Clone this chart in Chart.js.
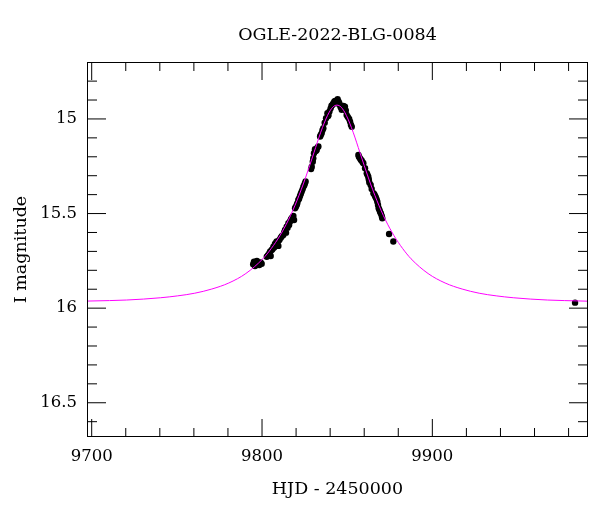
<!DOCTYPE html>
<html><head><meta charset="utf-8">
<script src="https://cdn.jsdelivr.net/npm/chart.js@4.4.1/dist/chart.umd.min.js"></script>
<style>html,body{margin:0;padding:0;background:#fff;}</style>
</head><body>
<canvas id="c" width="600" height="512"></canvas>
<script>
const chartTitle = 'OGLE-2022-BLG-0084';
const xTitle = 'HJD - 2450000';
const yTitle = 'I magnitude';

const xMajorTicks = [9700, 9800, 9900];
const xMinorTicks = [9700, 9720, 9740, 9760, 9780, 9800, 9820, 9840, 9860, 9880, 9900, 9920, 9940, 9960, 9980];
const yMajorTicks = [15, 15.5, 16, 16.5];
const yMinorTicks = [14.8, 14.9, 15, 15.1, 15.2, 15.3, 15.4, 15.5, 15.6, 15.7, 15.8, 15.9, 16, 16.1, 16.2, 16.3, 16.4, 16.5, 16.6];

// observed photometry (HJD - 2450000, I mag)
const obsHJD = [9795.3, 9796.9, 9798.4, 9795.9, 9799.2, 9796.2, 9794.8, 9797.5, 9799.8, 9797.0,
  9802.8, 9803.5, 9804.3, 9804.8, 9805.1, 9805.7, 9806.2, 9806.7, 9807.1, 9807.6, 9808.1, 9808.6,
  9809.1, 9809.6, 9810.2, 9811.0, 9811.6,
  9812.5, 9813.0, 9813.5, 9814.1, 9814.5, 9815.0, 9815.5, 9815.9, 9816.4, 9816.9, 9817.4,
  9817.9, 9818.4, 9818.8,
  9819.4, 9819.8, 9820.4, 9820.7, 9821.3, 9821.8, 9822.3, 9822.8, 9823.3, 9823.8, 9824.3,
  9824.8, 9825.2, 9825.6,
  9828.8, 9829.2, 9829.8, 9830.1, 9830.5, 9831.1, 9831.6, 9832.1, 9832.6, 9833.1, 9834.1,
  9834.5, 9835.0, 9835.5, 9836.0,
  9836.8, 9837.6, 9838.4, 9838.8, 9839.0, 9839.6, 9840.3, 9840.8, 9841.4, 9841.9, 9842.5,
  9843.0, 9843.8, 9844.4, 9844.9, 9845.3, 9845.8, 9846.2, 9846.8, 9847.2, 9847.8, 9848.2,
  9848.7, 9849.2, 9849.7, 9850.4, 9851.2, 9851.7, 9852.2, 9852.7,
  9856.6, 9856.9, 9857.5, 9858.0, 9858.5, 9859.0, 9859.5, 9860.5, 9861.5, 9861.9, 9862.4,
  9862.7, 9863.0, 9863.8, 9864.4, 9865.4, 9865.9, 9866.4, 9866.8, 9867.3, 9867.7, 9868.1,
  9868.5, 9868.9, 9869.3, 9869.8, 9870.3, 9870.6, 9874.6, 9877.1,
  9983.8];
const obsMag = [15.754, 15.766, 15.772, 15.777, 15.759, 15.760, 15.768, 15.770, 15.765, 15.750,
  15.728, 15.720, 15.710, 15.700, 15.724, 15.692, 15.688, 15.675, 15.680, 15.661, 15.655, 15.648,
  15.660, 15.671, 15.640, 15.628, 15.620,
  15.613, 15.600, 15.587, 15.601, 15.569, 15.575, 15.551, 15.560, 15.543, 15.532, 15.525,
  15.520, 15.513, 15.534,
  15.472, 15.465, 15.455, 15.446, 15.428, 15.420, 15.407, 15.395, 15.384, 15.372, 15.358,
  15.350, 15.340, 15.330,
  15.265, 15.252, 15.226, 15.208, 15.181, 15.160, 15.170, 15.164, 15.150, 15.146, 15.093,
  15.085, 15.076, 15.060, 15.049,
  15.020, 14.996, 14.970, 14.985, 14.979, 14.960, 14.944, 14.930, 14.925, 14.917, 14.908,
  14.905, 14.917, 14.896, 14.908, 14.915, 14.926, 14.938, 14.952, 14.945, 14.931, 14.940,
  14.935, 14.955, 14.979, 14.990, 15.000, 15.014, 15.030, 15.041,
  15.190, 15.200, 15.208, 15.215, 15.220, 15.228, 15.234, 15.260, 15.287, 15.295, 15.305,
  15.320, 15.336, 15.349, 15.370, 15.393, 15.398, 15.407, 15.415, 15.425, 15.437, 15.455,
  15.472, 15.480, 15.490, 15.500, 15.513, 15.525, 15.608, 15.648,
  15.971];

// model curve
const modelHJD = [9690, 9710.5, 9720.5, 9730.5, 9740.5, 9750.5, 9760.5, 9770.5, 9780.5, 9790.5,
  9800.5, 9805.5, 9810.5, 9815.5, 9820.5, 9825.5, 9830.5, 9834.5, 9838.5, 9841.5, 9844,
  9846.5, 9849.5, 9853.5, 9857.5, 9862.5, 9867.5, 9872.5, 9877.5, 9882.5, 9887.5,
  9897.5, 9907.5, 9917.5, 9927.5, 9937.5, 9947.5, 9957.5, 9967.5, 9977.5, 9995];
const modelMag = [15.964, 15.960, 15.957, 15.952, 15.945, 15.935, 15.921, 15.899, 15.867, 15.817,
  15.739, 15.684, 15.617, 15.534, 15.432, 15.312, 15.178, 15.070, 14.981, 14.938, 14.927,
  14.938, 14.981, 15.070, 15.178, 15.312, 15.432, 15.534, 15.617, 15.684, 15.739,
  15.817, 15.867, 15.899, 15.921, 15.935, 15.945, 15.952, 15.957, 15.960, 15.964];

const SERIF = '"DejaVu Serif", "Liberation Serif", serif';
const TITLE_FONT = {family: SERIF, size: 17.5, weight: 'normal'};
const TICK_FONT = {family: SERIF, size: 16.5, weight: 'normal'};

const frameTicks = {
  id: 'frameTicks',
  afterDraw(chart) {
    const {ctx, chartArea: a, scales: {x, y}} = chart;
    ctx.save();
    ctx.strokeStyle = '#000';
    ctx.lineWidth = 1;
    ctx.beginPath();
    xMinorTicks.forEach(v => {
      const px = x.getPixelForValue(v);
      const len = xMajorTicks.includes(v) ? 18 : 9;
      ctx.moveTo(px, a.bottom); ctx.lineTo(px, a.bottom - len);
      ctx.moveTo(px, a.top); ctx.lineTo(px, a.top + len);
    });
    yMinorTicks.forEach(v => {
      const py = y.getPixelForValue(v);
      const len = yMajorTicks.includes(v) ? 19 : 10;
      ctx.moveTo(a.left, py); ctx.lineTo(a.left + len, py);
      ctx.moveTo(a.right, py); ctx.lineTo(a.right - len, py);
    });
    ctx.stroke();
    ctx.strokeRect(a.left + 0.5, a.top + 0.5, a.right - a.left - 1, a.bottom - a.top - 1);
    ctx.restore();
  }
};

new Chart(document.getElementById('c'), {
  type: 'scatter',
  data: {
    datasets: [
      {
        label: 'model',
        data: modelHJD.map((t, i) => ({x: t, y: modelMag[i]})),
        showLine: true,
        borderColor: '#ff00ff',
        borderWidth: 1,
        pointRadius: 0,
        cubicInterpolationMode: 'monotone',
        order: 0
      },
      {
        label: 'OGLE',
        data: obsHJD.map((t, i) => ({x: t, y: obsMag[i]})),
        showLine: false,
        pointRadius: 3.2,
        pointBackgroundColor: '#000',
        pointBorderWidth: 0,
        order: 1
      }
    ]
  },
  options: {
    responsive: false,
    animation: false,
    devicePixelRatio: 1,
    layout: {padding: {left: 0, right: 12, top: 0, bottom: 0}},
    plugins: {
      legend: {display: false},
      tooltip: {enabled: false},
      title: {
        display: true, fullSize: false, text: chartTitle, color: '#000', font: TITLE_FONT,
        padding: {top: 24.5, bottom: 16.5}
      }
    },
    scales: {
      x: {
        type: 'linear', position: 'bottom', min: 9697.24, max: 9991.4,
        afterBuildTicks: s => { s.ticks = xMinorTicks.map(v => ({value: v})); },
        afterFit: s => { s.height = 75; },
        ticks: {
          autoSkip: false, maxRotation: 0, minRotation: 0, padding: 10, color: '#000', font: TICK_FONT,
          callback: v => xMajorTicks.includes(v) ? String(v) : ''
        },
        grid: {display: false, drawTicks: false},
        border: {display: false},
        title: {display: true, text: xTitle, color: '#000', font: TITLE_FONT, padding: {top: 0, bottom: 12.5}}
      },
      y: {
        type: 'linear', position: 'left', reverse: true, min: 14.699, max: 16.681,
        afterBuildTicks: s => { s.ticks = yMinorTicks.map(v => ({value: v})); },
        afterFit: s => { s.width = 87; },
        ticks: {
          autoSkip: false, padding: 10, color: '#000', font: TICK_FONT,
          callback: v => yMajorTicks.includes(v) ? String(v) : ''
        },
        grid: {display: false, drawTicks: false},
        border: {display: false},
        title: {display: true, text: yTitle, color: '#000', font: TITLE_FONT, padding: {top: 10.5, bottom: 0}}
      }
    }
  },
  plugins: [frameTicks]
});
</script>
</body></html>
